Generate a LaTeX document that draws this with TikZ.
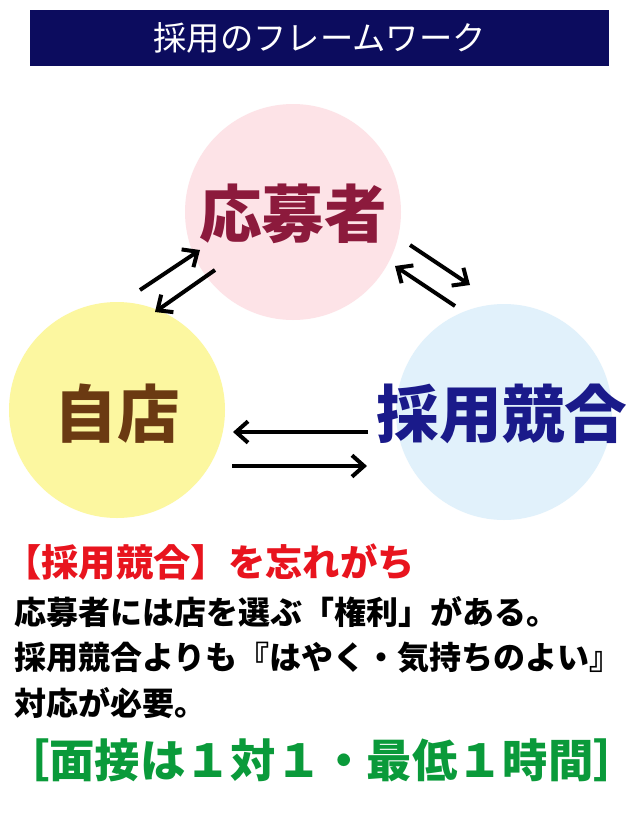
\documentclass[tikz,border=0pt]{standalone}
\usepackage{fontspec}
\newfontfamily\jp{Noto Sans CJK JP}
\usetikzlibrary{positioning,arrows.meta}
\definecolor{navy}{HTML}{0C0C5E}
\definecolor{pinkfill}{HTML}{FDE3E7}
\definecolor{yellowfill}{HTML}{FCF7A0}
\definecolor{bluefill}{HTML}{E1F1FB}
\definecolor{winered}{HTML}{8C1A3C}
\definecolor{brown}{HTML}{6B3A12}
\definecolor{darkblue}{HTML}{1A1A8A}
\definecolor{alertred}{HTML}{E8141E}
\definecolor{green}{HTML}{0A9A3A}
\begin{document}
\begin{tikzpicture}[x=0.75pt,y=-0.75pt]
	\tikzstyle{party} = [circle, minimum size=162pt, inner sep=0pt];
	\tikzstyle{partyname} = [font={\jp\bfseries\fontsize{47}{50}\selectfont}];
	\tikzstyle{flow} = [-{Straight Barb[length=9pt,width=16pt,line width=3pt]}, line width=3pt, black];
	\tikzstyle{textline} = [anchor=west, inner sep=0pt, font={\jp\bfseries\fontsize{24}{27}\selectfont}];

	\useasboundingbox (0,0) rectangle (640,825);
	\fill[white] (0,0) rectangle (640,825);

	\node[fill=navy, text=white, minimum width=434pt, minimum height=42pt,
		font={\jp\fontsize{25}{28}\selectfont}] (title) at (319.5,38) {採用のフレームワーク};

	\node[party, fill=pinkfill] (applicant) at (293,212) {};
	\node[party, fill=yellowfill] (shop) at (117,410) {};
	\node[party, fill=bluefill] (rival) at (504,412) {};
	\node[partyname, text=winered] (applicantname) at (293,214) {応募者};
	\node[partyname, text=brown] (shopname) at (117,414) {自店};
	\node[partyname, text=darkblue] (rivalname) at (502,414) {採用競合};

	\coordinate (a1) at (140,290); \coordinate (a2) at (200,250);
	\coordinate (a3) at (215,270); \coordinate (a4) at (155,312);
	\coordinate (b1) at (410,245); \coordinate (b2) at (470,285);
	\coordinate (b3) at (455,306); \coordinate (b4) at (395,266);
	\coordinate (c1) at (368,432); \coordinate (c2) at (233,432);
	\coordinate (c3) at (232,466); \coordinate (c4) at (367,466);
	\draw[flow] (a1) -- (a2);
	\draw[flow] (a3) -- (a4);
	\draw[flow] (b1) -- (b2);
	\draw[flow] (b3) -- (b4);
	\draw[flow] (c1) -- (c2);
	\draw[flow] (c3) -- (c4);

	\node[textline, text=alertred, font={\jp\bfseries\fontsize{28}{31}\selectfont}] (alert) at (4,562) {【採用競合】を忘れがち};
	\node[textline] (l1) at (14,612) {応募者には店を選ぶ「権利」がある。};
	\node[textline] (l2) at (14,658) {採用競合よりも『はやく・気持ちのよい』};
	\node[textline] (l3) at (14,703) {対応が必要。};
	\node[textline, text=green, font={\jp\bfseries\fontsize{34}{37}\selectfont}] (rule) at (4,760) {［面接は１対１・最低１時間］};
\end{tikzpicture}
\end{document}
